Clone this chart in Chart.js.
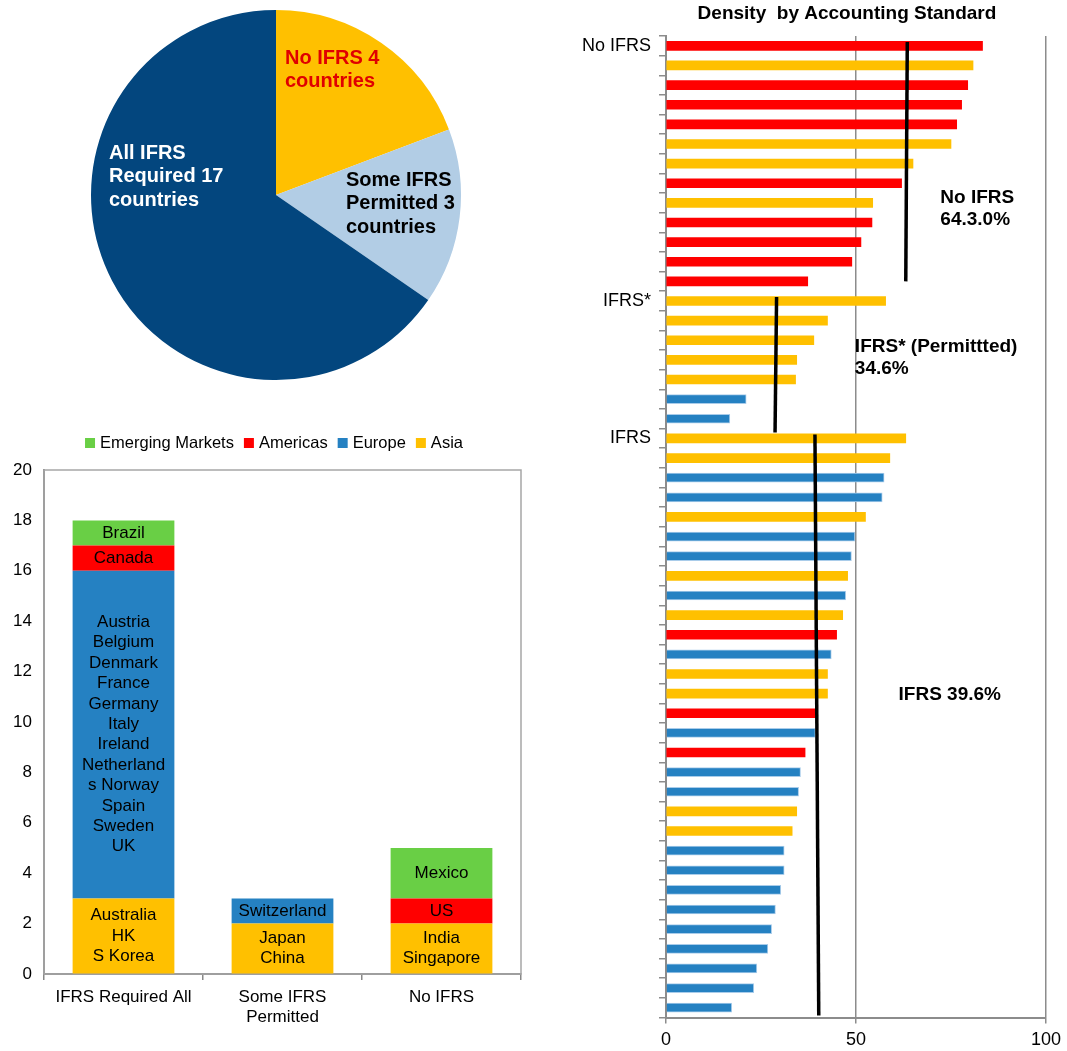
<!DOCTYPE html>
<html lang="en">
<head>
<meta charset="UTF-8">
<title>IFRS adoption and density by accounting standard</title>
<script src="https://cdn.jsdelivr.net/npm/chart.js@4.4.1/dist/chart.umd.min.js"></script>
<style>
    body { margin: 0; background: #fff; }
    #pagina { position: relative; width: 1067px; height: 1051px; overflow: hidden; }
    canvas { position: absolute; }
    #pizza { left: 0; top: 0; }
    #barras { left: 0; top: 425px; }
    #densidade { left: 560px; top: 0; }
</style>
</head>
<body>
<div id="pagina">
    <canvas id="pizza" width="552" height="392"></canvas>
    <canvas id="barras" width="548" height="626"></canvas>
    <canvas id="densidade" width="507" height="1051"></canvas>
</div>

<script>
    // pie - countries by standard
    const pieCategories = ['No IFRS', 'Some IFRS Permitted', 'All IFRS Required']
    const pieValues = [5, 4, 17]
    const pieText = [['No IFRS 4', 'countries'], ['Some IFRS', 'Permitted 3', 'countries'], ['All IFRS', 'Required 17', 'countries']]

    // stacked bars - countries by region
    const standards = ['IFRS Required All', ['Some IFRS', 'Permitted'], 'No IFRS']
    const asiaCount = [3, 2, 2]
    const europeCount = [13, 1, 0]
    const americasCount = [1, 0, 1]
    const emergingCount = [1, 0, 2]
    const asiaNames = [['Australia', 'HK', 'S Korea'], ['Japan', 'China'], ['India', 'Singapore']]
    const europeNames = [['Austria', 'Belgium', 'Denmark', 'France', 'Germany', 'Italy', 'Ireland', 'Netherland', 's Norway', 'Spain', 'Sweden', 'UK'], ['Switzerland'], []]
    const americasNames = [['Canada'], [], ['US']]
    const emergingNames = [['Brazil'], [], ['Mexico']]

    // horizontal bars - density
    const densityLabels = [
        'No IFRS', '', '', '', '', '', '', '', '', '', '', '', '',
        'IFRS*', '', '', '', '', '', '',
        'IFRS', '', '', '', '', '', '', '', '', '', '', '', '', '', '',
        '', '', '', '', '', '', '', '', '', '', '', '', '', '', ''
    ]
    const densityValues = [
        83.3, 80.8, 79.4, 77.8, 76.5, 75.0, 65.0, 62.0, 54.4, 54.2, 51.3, 48.9, 37.3,
        57.8, 42.5, 38.9, 34.4, 34.1, 21.1, 16.8,
        63.1, 58.9, 57.4, 56.9, 52.5, 49.7, 48.8, 47.8, 47.3, 46.5, 44.9, 43.5, 42.5, 42.5, 39.4,
        39.3, 36.6, 35.4, 34.9, 34.4, 33.2, 31.1, 31.1, 30.2, 28.8, 27.8, 26.8, 23.9, 23.1, 17.3
    ]
    const densityRegion = [
        'Am', 'As', 'Am', 'Am', 'Am', 'As', 'As', 'Am', 'As', 'Am', 'Am', 'Am', 'Am',
        'As', 'As', 'As', 'As', 'As', 'Eu', 'Eu',
        'As', 'As', 'Eu', 'Eu', 'As', 'Eu', 'Eu', 'As', 'Eu', 'As', 'Am', 'Eu', 'As', 'As', 'Am',
        'Eu', 'Am', 'Eu', 'Eu', 'As', 'As', 'Eu', 'Eu', 'Eu', 'Eu', 'Eu', 'Eu', 'Eu', 'Eu', 'Eu'
    ]
    // average lines: x at both ends, row span
    const meanLineX = [[63.5, 63.1], [29.1, 28.7], [39.2, 40.2]]
    const meanLineRow = [[-0.2, 12.0], [12.8, 19.7], [19.8, 49.4]]
    const chartTitle = 'Density  by Accounting Standard'
    const noteText = [['No IFRS', '64.3.0%'], ['IFRS* (Permittted)', '34.6%'], ['IFRS 39.6%']]

    const fonte = '"Liberation Sans", Arial, sans-serif'
    Chart.defaults.font.family = fonte
    Chart.defaults.color = '#000'

    const amarelo = '#FFC000'
    const vermelho = '#FF0000'
    const azul = '#2581C2'
    const verde = '#69CF45'

    // ---------- pie ----------
    const pieTextPos = [[285, 58], [346, 180], [109, 153]]
    const pieTextColor = ['#E00000', '#000', '#fff']

    const pieLabels = {
        id: 'pieLabels',
        afterDraw(chart) {
            const ctx = chart.ctx
            ctx.save()
            ctx.font = 'bold 20px ' + fonte
            ctx.textAlign = 'left'
            ctx.textBaseline = 'middle'
            pieText.forEach((lines, i) => {
                ctx.fillStyle = pieTextColor[i]
                lines.forEach((t, n) => ctx.fillText(t, pieTextPos[i][0], pieTextPos[i][1] + n * 23.8))
            })
            ctx.restore()
        }
    }

    new Chart(document.getElementById('pizza'), {
        type: 'pie',
        data: {
            labels: pieCategories,
            datasets: [{
                data: pieValues,
                backgroundColor: [amarelo, '#B2CDE5', '#03467E'],
                borderWidth: 0
            }]
        },
        options: {
            responsive: false,
            animation: false,
            layout: { padding: { left: 91, right: 91, top: 10, bottom: 12 } },
            plugins: { legend: { display: false }, tooltip: { enabled: false } }
        },
        plugins: [pieLabels]
    })

    // ---------- stacked bars ----------
    const segmentNames = [asiaNames, europeNames, americasNames, emergingNames]

    const segmentLabels = {
        id: 'segmentLabels',
        afterDatasetsDraw(chart) {
            const ctx = chart.ctx
            ctx.save()
            ctx.font = '17px ' + fonte
            ctx.fillStyle = '#000'
            ctx.textAlign = 'center'
            ctx.textBaseline = 'middle'
            chart.data.datasets.forEach((ds, i) => {
                chart.getDatasetMeta(i).data.forEach((bar, j) => {
                    const lines = segmentNames[i][j]
                    const mid = (bar.y + bar.base) / 2
                    lines.forEach((t, k) => ctx.fillText(t, bar.x, mid + (k - (lines.length - 1) / 2) * 20.4))
                })
            })
            ctx.restore()
        }
    }

    const topLegend = {
        id: 'topLegend',
        afterDraw(chart) {
            const ctx = chart.ctx
            ctx.save()
            ctx.font = '16.5px ' + fonte
            ctx.textBaseline = 'middle'
            const items = chart.data.datasets.slice().reverse()
            let total = 0
            items.forEach(ds => total += 15 + ctx.measureText(ds.label).width)
            total += 10 * (items.length - 1)
            let x = chart.width / 2 - total / 2
            const y = 18
            items.forEach(ds => {
                ctx.fillStyle = ds.backgroundColor
                ctx.fillRect(x, y - 5, 10, 10)
                x += 15
                ctx.fillStyle = '#000'
                ctx.fillText(ds.label, x, y)
                x += ctx.measureText(ds.label).width + 10
            })
            ctx.restore()
        }
    }

    const plotBox = {
        id: 'plotBox',
        beforeDatasetsDraw(chart) {
            const ctx = chart.ctx
            const a = chart.chartArea
            ctx.save()
            ctx.strokeStyle = '#A6A6A6'
            ctx.lineWidth = 1.5
            ctx.strokeRect(a.left, a.top, a.right - a.left, a.bottom - a.top)
            ctx.restore()
        }
    }

    new Chart(document.getElementById('barras'), {
        type: 'bar',
        data: {
            labels: standards,
            datasets: [
                { label: 'Asia', data: asiaCount, backgroundColor: amarelo },
                { label: 'Europe', data: europeCount, backgroundColor: azul },
                { label: 'Americas', data: americasCount, backgroundColor: vermelho },
                { label: 'Emerging Markets', data: emergingCount, backgroundColor: verde }
            ]
        },
        options: {
            responsive: false,
            animation: false,
            barPercentage: 0.64,
            categoryPercentage: 1,
            layout: { padding: { left: 0, right: 27, top: 45, bottom: 0 } },
            plugins: { legend: { display: false }, tooltip: { enabled: false } },
            scales: {
                x: {
                    stacked: true,
                    grid: { offset: true, drawOnChartArea: false, tickLength: 6, color: '#888', lineWidth: 1.5 },
                    border: { color: '#888', width: 2 },
                    ticks: { font: { size: 17, lineHeight: 1.2 }, padding: 7, maxRotation: 0 },
                    afterFit(scale) { scale.height = 77 }
                },
                y: {
                    stacked: true,
                    min: 0,
                    max: 20,
                    grid: { drawOnChartArea: false, drawTicks: false },
                    border: { color: '#888', width: 2 },
                    ticks: { stepSize: 2, font: { size: 17 }, padding: 12 },
                    afterFit(scale) { scale.width = 44 }
                }
            }
        },
        plugins: [plotBox, segmentLabels, topLegend]
    })

    // ---------- density ----------
    const regionColor = { Am: vermelho, As: amarelo, Eu: azul }

    function regionSeries(code) {
        return densityValues.map((v, i) => densityRegion[i] === code ? v : null)
    }

    const notePos = [[72.2, 8.29], [49.7, 15.9], [61.2, 33.08]]

    const densityNotes = {
        id: 'densityNotes',
        afterDraw(chart) {
            const ctx = chart.ctx
            const xs = chart.scales.x
            const ys = chart.scales.y2
            const a = chart.chartArea
            ctx.save()
            ctx.fillStyle = '#000'
            ctx.textBaseline = 'middle'
            ctx.font = 'bold 19px ' + fonte
            ctx.textAlign = 'center'
            ctx.fillText(chartTitle, (a.left + a.right) / 2 - 9, 14)
            ctx.textAlign = 'left'
            noteText.forEach((lines, k) => {
                const x = xs.getPixelForValue(notePos[k][0])
                const y = ys.getPixelForValue(notePos[k][1])
                lines.forEach((t, n) => ctx.fillText(t, x, y + (n - (lines.length - 1) / 2) * 22))
            })
            ctx.restore()
        }
    }

    const barSets = ['Am', 'As', 'Eu'].map(code => ({
        label: code,
        data: regionSeries(code),
        backgroundColor: regionColor[code],
        borderColor: '#A9CCEA',
        borderWidth: code === 'Eu' ? 1 : 0,
        barThickness: 9,
        grouped: false,
        order: 1
    }))

    const lineSets = meanLineX.map((xs, k) => ({
        type: 'line',
        indexAxis: 'y',
        yAxisID: 'y2',
        data: [{ x: xs[0], y: meanLineRow[k][0] }, { x: xs[1], y: meanLineRow[k][1] }],
        borderColor: '#000',
        borderWidth: 3.5,
        pointRadius: 0,
        fill: false,
        order: 0
    }))

    new Chart(document.getElementById('densidade'), {
        type: 'bar',
        data: {
            labels: densityLabels,
            datasets: lineSets.concat(barSets)
        },
        options: {
            responsive: false,
            animation: false,
            indexAxis: 'y',
            layout: { padding: { left: 0, right: 21, top: 36, bottom: 0 } },
            plugins: { legend: { display: false }, tooltip: { enabled: false } },
            scales: {
                x: {
                    min: 0,
                    max: 100,
                    grid: { color: '#8C8C8C', lineWidth: 1.5, tickLength: 6 },
                    border: { color: '#8C8C8C', width: 2 },
                    ticks: { stepSize: 50, font: { size: 18 }, padding: 6 },
                    afterFit(scale) { scale.height = 33.5 }
                },
                y: {
                    grid: { offset: true, drawOnChartArea: false, tickLength: 7, color: '#8C8C8C', lineWidth: 1.5 },
                    border: { color: '#8C8C8C', width: 2 },
                    ticks: { autoSkip: false, font: { size: 18 }, padding: 8 },
                    afterFit(scale) { scale.width = 106 }
                },
                y2: {
                    type: 'linear',
                    display: false,
                    offset: false,
                    grid: { offset: false },
                    min: -0.5,
                    max: 49.5,
                    reverse: true
                }
            }
        },
        plugins: [densityNotes]
    })
</script>
</body>
</html>
